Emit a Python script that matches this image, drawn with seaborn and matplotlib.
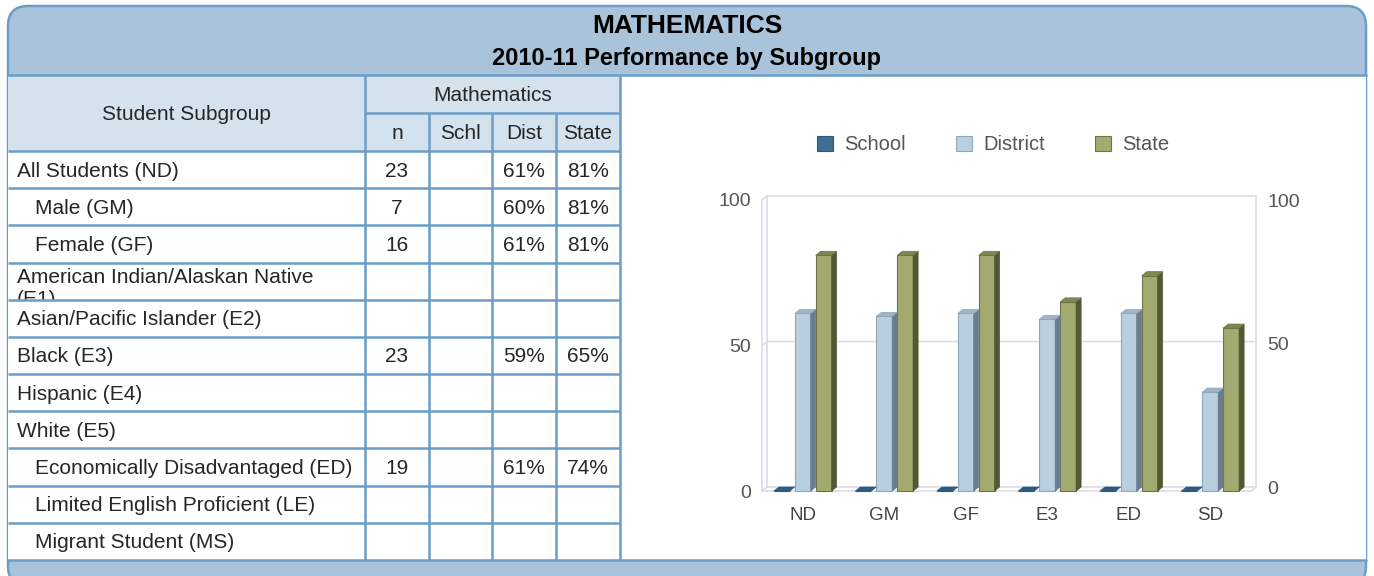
import matplotlib
matplotlib.use("Agg")
import matplotlib.pyplot as plt
import numpy as np
import pandas as pd
import seaborn as sns
from matplotlib.patches import Rectangle, FancyBboxPatch, Polygon, Patch

# ---------------- data ----------------
title = "MATHEMATICS"
subtitle = "2010-11 Performance by Subgroup"
row_header = "Student Subgroup"
group_header = "Mathematics"
col_headers = ["n", "Schl", "Dist", "State"]

subgroups = ["All Students (ND)", "Male (GM)", "Female (GF)",
             "American Indian/Alaskan Native\n(E1)", "Asian/Pacific Islander (E2)",
             "Black (E3)", "Hispanic (E4)", "White (E5)",
             "Economically Disadvantaged (ED)", "Limited English Proficient (LE)",
             "Migrant Student (MS)"]
indent = [0, 1, 1, 0, 0, 0, 0, 0, 1, 1, 1]
n_vals = ["23", "7", "16", "", "", "23", "", "", "19", "", ""]
schl_pct = ["", "", "", "", "", "", "", "", "", "", ""]
dist_pct = ["61%", "60%", "61%", "", "", "59%", "", "", "61%", "", ""]
state_pct = ["81%", "81%", "81%", "", "", "65%", "", "", "74%", "", ""]

cats = ["ND", "GM", "GF", "E3", "ED", "SD"]
series = ["School", "District", "State"]
school = [0, 0, 0, 0, 0, 0]
district = [61, 60, 61, 59, 61, 34]
state = [81, 81, 81, 65, 74, 56]
yticks = [0, 50, 100]

# ---------------- style ----------------
face_colors = ["#3d6f96", "#b9cfe0", "#a3aa6f"]
edge_colors = ["#2c5b80", "#8fa6b9", "#6d7449"]
top_colors = ["#2c5b80", "#9fb5c6", "#7f8752"]
side_colors = ["#2c5b80", "#6a7d8c", "#525832"]
BORDER = "#6b9dc8"
BAND = "#a9c4da"
HEAD = "#d4e2ed"
GRID = "#dcdce6"

sns.set_theme(style="white")
plt.rcParams["font.family"] = ["Liberation Sans", "DejaVu Sans"]

W, H = 1374, 576
fig = plt.figure(figsize=(W / 100, H / 100), dpi=100)
fig.patch.set_facecolor("white")

bg = fig.add_axes([0, 0, 1, 1])
bg.set_xlim(0, W)
bg.set_ylim(H, 0)
bg.axis("off")

lw = 1.8
bg.add_patch(FancyBboxPatch((8, 6), 1358, 580, boxstyle="round,pad=0,rounding_size=20",
                            fc=BAND, ec=BORDER, lw=lw, zorder=0))
bg.add_patch(Rectangle((8, 75), 1358, 485, fc="white", ec="none", zorder=1))
bg.plot([8, 1366], [75, 75], color=BORDER, lw=lw, zorder=3)
bg.plot([8, 1366], [560, 560], color=BORDER, lw=lw, zorder=3)

bg.text(687, 26, title, ha="center", va="center", fontsize=19, fontweight="bold", color="black")
bg.text(687, 58.5, subtitle, ha="center", va="center", fontsize=17, fontweight="bold", color="black")

# ---------------- table ----------------
col_x = [8, 365, 429, 492, 556, 620]
top_y, mid_y, body_y, end_y = 75, 113, 151, 560
row_h = (end_y - body_y) / len(subgroups)
dy_t = 1.5  # optical centring of caps

bg.add_patch(Rectangle((col_x[0], top_y), col_x[1] - col_x[0], body_y - top_y, fc=HEAD, ec="none", zorder=1))
bg.add_patch(Rectangle((col_x[1], top_y), col_x[5] - col_x[1], body_y - top_y, fc=HEAD, ec="none", zorder=1))

tl = dict(color=BORDER, lw=lw, zorder=3, solid_capstyle="butt")
bg.plot([col_x[1], col_x[5]], [mid_y, mid_y], **tl)
for k in range(len(subgroups)):
    y = body_y + k * row_h
    bg.plot([col_x[0], col_x[5]], [y, y], **tl)
bg.plot([col_x[1], col_x[1]], [top_y, end_y], **tl)
bg.plot([col_x[5], col_x[5]], [top_y, end_y], **tl)
for cx in col_x[2:5]:
    bg.plot([cx, cx], [mid_y, end_y], **tl)

fs = 15
bg.text((col_x[0] + col_x[1]) / 2, (top_y + body_y) / 2 + dy_t, row_header, ha="center", va="center", fontsize=fs)
bg.text((col_x[1] + col_x[5]) / 2, (top_y + mid_y) / 2 + dy_t, group_header, ha="center", va="center", fontsize=fs)
for j, h in enumerate(col_headers):
    bg.text((col_x[j + 1] + col_x[j + 2]) / 2, (mid_y + body_y) / 2 + dy_t, h, ha="center", va="center", fontsize=fs)

cols = [n_vals, schl_pct, dist_pct, state_pct]
for i, name in enumerate(subgroups):
    y0 = body_y + i * row_h
    yc = y0 + row_h / 2 + dy_t
    x = col_x[0] + 9 + 18 * indent[i]
    if "\n" in name:
        # wrapped label overflowing its cell: mask the overflow in the next row
        bg.text(x, y0 + 5, name, ha="left", va="top", fontsize=fs, zorder=2)
        bg.add_patch(Rectangle((col_x[0] + 1, y0 + row_h), col_x[1] - col_x[0] - 2, 16,
                               fc="white", ec="none", zorder=2.2))
    else:
        bg.text(x, yc, name, ha="left", va="center", fontsize=fs, zorder=2.5)
    for j, col in enumerate(cols):
        if col[i]:
            bg.text((col_x[j + 1] + col_x[j + 2]) / 2, yc, col[i], ha="center", va="center", fontsize=fs, zorder=2.5)

# ---------------- chart ----------------
ax = fig.add_axes([762 / W, (H - 491) / H, 489 / W, 291 / H])
ax.set_facecolor("none")
df = pd.DataFrame({
    "cat": cats * 3,
    "series": [s for s in series for _ in cats],
    "val": school + district + state,
})
sns.barplot(data=df, x="cat", y="val", hue="series", order=cats, hue_order=series,
            palette=face_colors, width=0.77, gap=0.24, saturation=1, ax=ax,
            legend=False, zorder=3)
ax.set_xlim(-0.5, len(cats) - 0.5)
ax.set_ylim(0, 100)

ddx = 5 * len(cats) / 489
ddy = 4 * 100 / 291

# walls / floor
x0w, x1w = -0.5, len(cats) - 0.5
wk = dict(color=GRID, lw=1.2, clip_on=False, zorder=1)
for v in yticks[1:]:
    ax.plot([x0w, x0w + ddx, x1w + ddx], [v, v + ddy, v + ddy], **wk)
ax.plot([x0w, x0w], [0, 100], **wk)
ax.plot([x0w + ddx, x0w + ddx], [ddy, 100 + ddy], **wk)
ax.plot([x1w + ddx, x1w + ddx], [ddy, 100 + ddy], **wk)
ax.add_patch(Polygon([(x0w, 0), (x1w, 0), (x1w + ddx, ddy), (x0w + ddx, ddy)],
                     closed=True, fc="white", ec=GRID, lw=1.2, clip_on=False, zorder=1))

for ci, cont in enumerate(ax.containers):
    for p in cont:
        p.set_edgecolor(edge_colors[ci])
        p.set_linewidth(0.8)
        p.set_clip_on(False)
        bx, bw, bh = p.get_x(), p.get_width(), p.get_height()
        if bh > 0:
            ax.add_patch(Polygon([(bx + bw, 0), (bx + bw + ddx, ddy), (bx + bw + ddx, bh + ddy), (bx + bw, bh)],
                                 closed=True, fc=side_colors[ci], ec=side_colors[ci], lw=0.5,
                                 clip_on=False, zorder=3))
        ax.add_patch(Polygon([(bx, bh), (bx + bw, bh), (bx + bw + ddx, bh + ddy), (bx + ddx, bh + ddy)],
                             closed=True, fc=top_colors[ci], ec=edge_colors[ci], lw=0.5,
                             clip_on=False, zorder=3))

sns.despine(ax=ax, left=True, bottom=True)
ax.set_xlabel("")
ax.set_ylabel("")
ax.set_yticks(yticks)
ax.set_yticklabels([str(v) for v in yticks])
ax.tick_params(axis="y", length=0, pad=8, labelsize=14, labelcolor="#555555")
ax.tick_params(axis="x", length=0, pad=11.5, labelsize=13.5, labelcolor="#444444")
ax.grid(False)

ax2 = ax.twinx()
ax2.set_ylim(-ddy, 100 - ddy)
ax2.set_yticks(yticks)
ax2.set_yticklabels([str(v) for v in yticks])
ax2.tick_params(axis="y", length=0, pad=12, labelsize=14, labelcolor="#555555")
for s in ax2.spines.values():
    s.set_visible(False)
ax2.grid(False)

handles = [Patch(facecolor=fc, edgecolor=ec, lw=0.8) for fc, ec in zip(face_colors, edge_colors)]
ax.legend(handles, series, loc="center", bbox_to_anchor=(993 / W, 1 - 145 / H),
          bbox_transform=fig.transFigure, ncol=3, frameon=False, fontsize=14.5,
          handlelength=0.8, handleheight=0.8, handletextpad=0.55, columnspacing=2.5,
          labelcolor="#555555", borderpad=0)

fig.savefig("out.png", dpi=100)
